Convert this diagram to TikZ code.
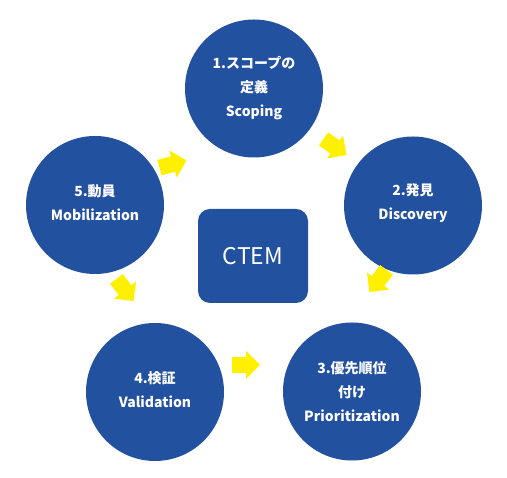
\documentclass[tikz,border=0pt]{standalone}
\usepackage{fontspec}
\newfontfamily\cjk{Noto Sans CJK JP}
\definecolor{cblue}{RGB}{34,81,160}
\definecolor{cyellow}{RGB}{255,240,0}
\tikzset{
  stagecircle/.style={circle, fill=cblue, minimum size=138pt, inner sep=0pt},
  stagetext/.style={align=center, text=white, font=\cjk\bfseries\fontsize{14}{24}\selectfont},
  centerbox/.style={rounded corners=12pt, fill=cblue, minimum width=110pt, minimum height=94pt, inner sep=0pt, text=white, font=\cjk\fontsize{23}{27}\selectfont},
  yarrow/.pic={\fill[cyellow] (-14pt,-8pt) -- (0pt,-8pt) -- (0pt,-14pt) -- (14pt,0pt) -- (0pt,14pt) -- (0pt,8pt) -- (-14pt,8pt) -- cycle;}
}
\begin{document}
\begin{tikzpicture}[x=1pt,y=1pt]
\useasboundingbox (0,0) rectangle (507,478);
\node[stagecircle] (c1) at (254,389.5) {};
\node[stagecircle] (c2) at (413,272.5) {};
\node[stagecircle] (c3) at (352,86.5) {};
\node[stagecircle] (c4) at (155,86) {};
\node[stagecircle] (c5) at (95,273) {};
\node[stagetext] (t1) at (c1) {1.スコープの\\定義\\Scoping};
\node[stagetext] (t2) at ([yshift=2pt]c2) {2.発見\\Discovery};
\node[stagetext] (t3) at (c3) {3.優先順位\\付け\\Prioritization};
\node[stagetext] (t4) at ([yshift=2pt]c4) {4.検証\\Validation};
\node[stagetext] (t5) at ([yshift=2pt]c5) {5.動員\\Mobilization};
\node[centerbox] (ctem) at (253,222) {CTEM};
\pic[rotate=15] (a51) at (173,314) {yarrow};
\pic[rotate=-35] (a12) at (335,331) {yarrow};
\pic[rotate=-128] (a23) at (378,197) {yarrow};
\pic[rotate=0] (a43) at (246,113) {yarrow};
\pic[rotate=-52] (a54) at (125,188) {yarrow};
\end{tikzpicture}
\end{document}
